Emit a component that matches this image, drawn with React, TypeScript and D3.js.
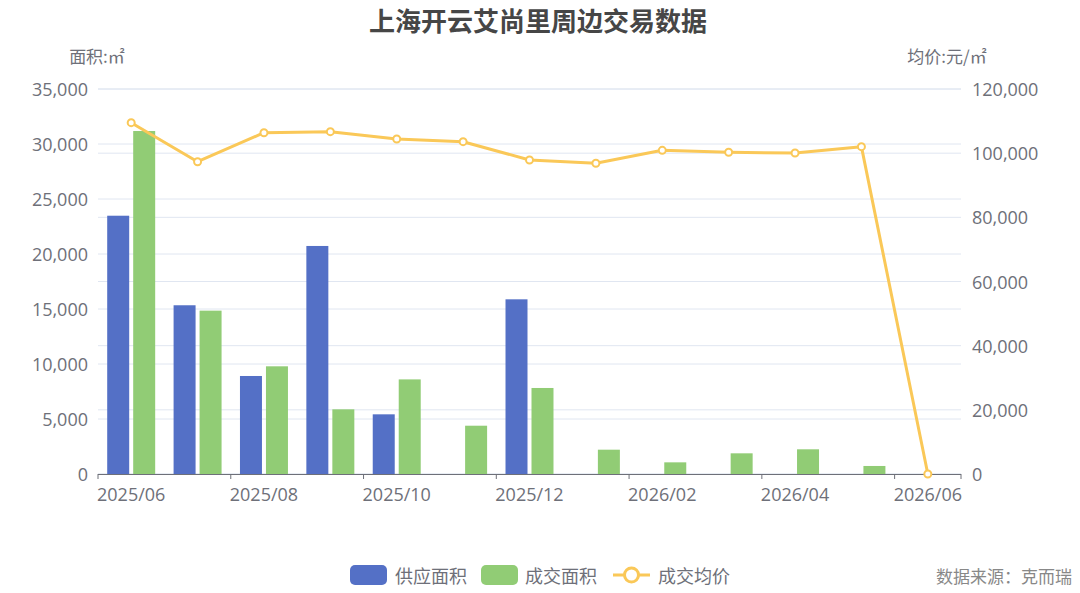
import React from "react";
import * as d3 from "d3";

const months = [
  "2025/06", "2025/07", "2025/08", "2025/09", "2025/10", "2025/11", "2025/12",
  "2026/01", "2026/02", "2026/03", "2026/04", "2026/05", "2026/06",
];
const supplyArea = [23480, 15340, 8910, 20730, 5425, 0, 15880, 0, 0, 0, 0, 0, 0];
const dealArea = [31180, 14850, 9790, 5880, 8600, 4390, 7820, 2210, 1060, 1880, 2245, 730, 0];
const avgPrice = [109500, 97340, 106380, 106700, 104420, 103580, 97870, 96840, 100890, 100270, 100050, 102030, 0];
const leftTicks = [0, 5000, 10000, 15000, 20000, 25000, 30000, 35000];
const rightTicks = [0, 20000, 40000, 60000, 80000, 100000, 120000];

const W = 1080, H = 593;
const margin = { top: 89, right: 119, bottom: 119, left: 98 };
const font = "'Noto Sans CJK SC', 'Noto Sans', sans-serif";
const numFont = "'Open Sans', 'Noto Sans CJK SC', sans-serif";
const axisColor = "#6e7079";
const gridColor = "#e0e6f1";
const blue = "#5470c6", green = "#91cc75", yellow = "#fac858";

export default function App(): JSX.Element {
  const x = d3.scaleBand<string>().domain(months).range([margin.left, W - margin.right]);
  const inner = d3
    .scaleBand<string>()
    .domain(["supply", "deal"])
    .range([0, x.bandwidth()])
    .paddingInner(0.154)
    .paddingOuter(0.354);
  const yL = d3.scaleLinear().domain([0, 35000]).range([H - margin.bottom, margin.top]);
  const yR = d3.scaleLinear().domain([0, 120000]).range([H - margin.bottom, margin.top]);
  const fmt = d3.format(",");
  const base = H - margin.bottom;
  const x0 = margin.left, x1 = W - margin.right;

  const line = d3
    .line<number>()
    .x((_, i) => (x(months[i]) as number) + x.bandwidth() / 2)
    .y((d) => yR(d));

  const tickXs = months.filter((_, i) => i % 2 === 0).map((m) => x(m) as number).concat([x1]);

  return (
    <svg width={W} height={H} style={{ position: "absolute", left: 0, top: 0 }} fontFamily={font}>
      <rect width={W} height={H} fill="#fff" />
      <text x={538} y={19} textAnchor="middle" dominantBaseline="central" fontSize={26} fontWeight="bold" fill="#464646">
        上海开云艾尚里周边交易数据
      </text>

      {/* grid */}
      {leftTicks.map((t) => (
        <line key={"gl" + t} x1={x0} x2={x1} y1={yL(t)} y2={yL(t)} stroke={gridColor} />
      ))}
      {rightTicks.map((t) => (
        <line key={"gr" + t} x1={x0} x2={x1} y1={yR(t)} y2={yR(t)} stroke={gridColor} />
      ))}

      {/* axis names */}
      <text x={97} y={55} textAnchor="middle" dominantBaseline="central" fontSize={17} fill={axisColor}>面积:㎡</text>
      <text x={947} y={55} textAnchor="middle" dominantBaseline="central" fontSize={17} fill={axisColor}>均价:元/㎡</text>

      {leftTicks.map((t) => (
        <text key={"tl" + t} x={x0 - 10} y={yL(t)} textAnchor="end" dominantBaseline="central" fontSize={18} fontFamily={numFont} fill={axisColor}>
          {fmt(t)}
        </text>
      ))}
      {rightTicks.map((t) => (
        <text key={"tr" + t} x={x1 + 11} y={yR(t)} textAnchor="start" dominantBaseline="central" fontSize={18} fontFamily={numFont} fill={axisColor}>
          {fmt(t)}
        </text>
      ))}

      {/* bars */}
      {months.map((m, i) => (
        <g key={m}>
          {supplyArea[i] > 0 && (
            <rect
              x={(x(m) as number) + (inner("supply") as number)}
              width={inner.bandwidth()}
              y={yL(supplyArea[i])}
              height={base - yL(supplyArea[i])}
              fill={blue}
            />
          )}
          {dealArea[i] > 0 && (
            <rect
              x={(x(m) as number) + (inner("deal") as number)}
              width={inner.bandwidth()}
              y={yL(dealArea[i])}
              height={base - yL(dealArea[i])}
              fill={green}
            />
          )}
        </g>
      ))}

      {/* x axis */}
      <line x1={x0} x2={x1} y1={base + 0.5} y2={base + 0.5} stroke={axisColor} />
      {tickXs.map((tx) => (
        <line key={"tk" + tx} x1={tx} x2={tx} y1={base} y2={base + 5} stroke={axisColor} />
      ))}
      {months.map((m, i) =>
        i % 2 === 0 ? (
          <text key={"xl" + m} x={(x(m) as number) + x.bandwidth() / 2} y={494} textAnchor="middle" dominantBaseline="central" fontSize={18} fontFamily={numFont} fill={axisColor}>
            {m}
          </text>
        ) : null
      )}

      {/* price line */}
      <path d={line(avgPrice) ?? ""} fill="none" stroke={yellow} strokeWidth={3} strokeLinejoin="round" />
      {avgPrice.map((v, i) => (
        <circle
          key={"pt" + i}
          cx={(x(months[i]) as number) + x.bandwidth() / 2}
          cy={yR(v)}
          r={3.5}
          fill="#fff"
          stroke={yellow}
          strokeWidth={2}
        />
      ))}

      {/* legend */}
      <rect x={350} y={565} width={37} height={20} rx={5} fill={blue} />
      <text x={395} y={575} dominantBaseline="central" fontSize={18} fill={axisColor}>供应面积</text>
      <rect x={481} y={565} width={37} height={20} rx={5} fill={green} />
      <text x={525} y={575} dominantBaseline="central" fontSize={18} fill={axisColor}>成交面积</text>
      <line x1={613} x2={650} y1={575} y2={575} stroke={yellow} strokeWidth={3} />
      <circle cx={631.5} cy={575} r={7} fill="#fff" stroke={yellow} strokeWidth={3} />
      <text x={658} y={575} dominantBaseline="central" fontSize={18} fill={axisColor}>成交均价</text>

      <text x={1072} y={575} textAnchor="end" dominantBaseline="central" fontSize={17} fill="#888">
        数据来源：克而瑞
      </text>
    </svg>
  );
}
